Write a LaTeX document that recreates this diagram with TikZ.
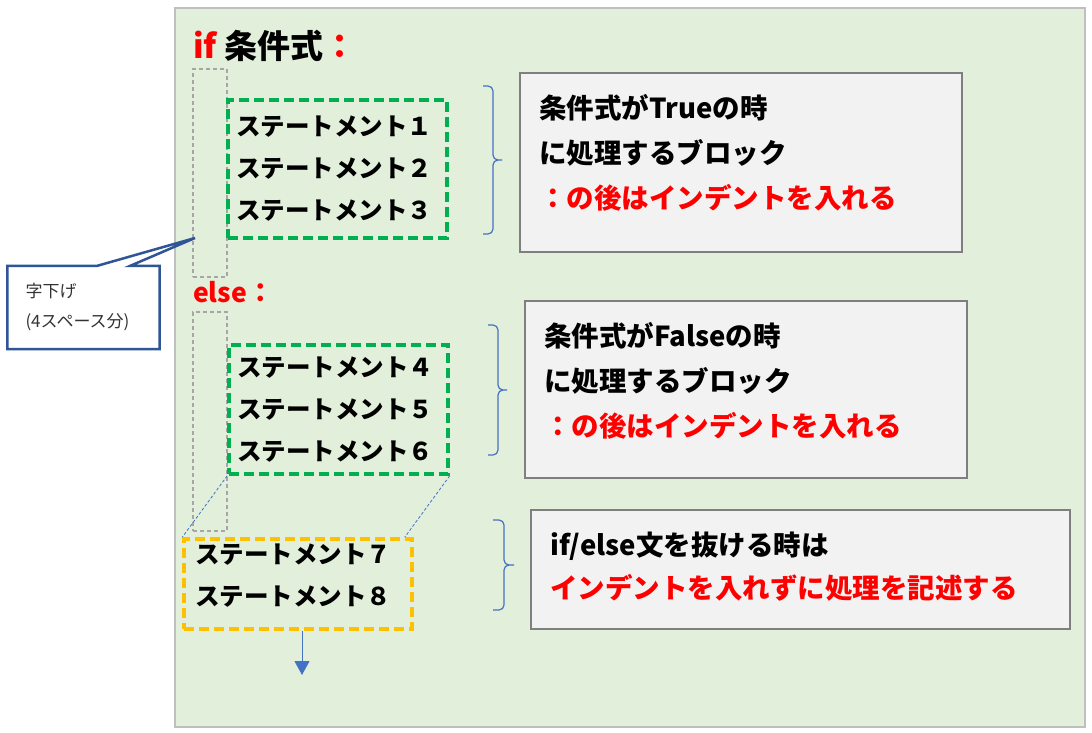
\documentclass[tikz,border=0pt]{standalone}
\usepackage{fontspec}
\usepackage{xcolor}
\usepackage{tikz}
\usetikzlibrary{arrows.meta}
\newfontfamily\cjk{Noto Sans CJK JP}
\definecolor{c1}{HTML}{E2EFDA}
\definecolor{c2}{HTML}{BFBFBF}
\definecolor{c3}{HTML}{00B050}
\definecolor{c4}{HTML}{FFC000}
\definecolor{c5}{HTML}{2F5597}
\definecolor{c6}{HTML}{4472C4}
\definecolor{c7}{HTML}{F2F2F2}
\definecolor{c8}{HTML}{7F7F7F}
\definecolor{c9}{HTML}{A6A6A6}

\begin{document}
\begin{tikzpicture}[x=1pt, y=-1pt,
    stmt/.style={draw, line width=3.5pt, dash pattern=on 10pt off 5pt, align=left,
        inner ysep=2pt, font=\cjk\bfseries\fontsize{24.5}{42}\selectfont},
    gapbox/.style={draw=c9, line width=1.5pt, dash pattern=on 4pt off 3pt, inner sep=0pt},
    note/.style={draw=c8, line width=2pt, fill=c7, inner sep=0pt},
    notetxt/.style={anchor=west, align=left, inner sep=0pt, font=\cjk\bfseries\fontsize{27.5}{#1}\selectfont},
    brk/.style={c6, line width=1.2pt, rounded corners=5pt},
    link/.style={c6, line width=0.8pt, dash pattern=on 3pt off 2pt}]
    \useasboundingbox (0,0) rectangle (1092,733);
    \fill [white] (0,0) rectangle (1092,733);
    \draw [c2, line width=2pt, fill=c1] (175,8) rectangle (1085,727);

    % headers
    \node [anchor=base west, inner sep=0pt, font=\cjk\bfseries\fontsize{33}{40}\selectfont]
        (ifline) at (193,59) {\textcolor{red}{if} 条件式\textcolor{red}{：}};
    \node [anchor=base west, inner sep=0pt, font=\cjk\bfseries\fontsize{26.5}{30}\selectfont, red]
        (elseline) at (193,302) {else：};

    % indent columns
    \node [gapbox, minimum width=34pt, minimum height=208pt] (gap1) at (210,173) {};
    \node [gapbox, minimum width=34pt, minimum height=219pt] (gap2) at (210,421.5) {};

    % statement blocks
    \node [stmt, draw=c3, minimum width=219pt, minimum height=138pt, inner xsep=8pt, text width=203pt]
        (blk1) at (337.5,169) {ステートメント１\\ステートメント２\\ステートメント３};
    \node [stmt, draw=c3, minimum width=219pt, minimum height=129pt, inner xsep=8pt, text width=203pt]
        (blk2) at (338.5,409.5) {ステートメント４\\ステートメント５\\ステートメント６};
    \node [stmt, draw=c4, minimum width=228pt, minimum height=90pt, inner xsep=11pt, text width=206pt,
        text depth=60pt] (blk3) at (298,584) {ステートメント７\\ステートメント８};

    \draw [link] (blk2.south west) -- (blk3.north west);
    \draw [link] (blk2.south east) -- ([xshift=-9pt]blk3.north east);

    \coordinate (end) at (302,675);
    \draw [c6, line width=1pt, -{Triangle[width=15pt,length=14pt]}] (blk3.south -| end) -- (end);

    % notes
    \node [note, minimum width=442pt, minimum height=179pt] (note1) at (741,162.5) {};
    \node [notetxt=45pt] (note1txt) at ([xshift=20pt, yshift=10pt]note1.west)
        {条件式がTrueの時\\に処理するブロック\\\textcolor{red}{：の後はインデントを入れる}};
    \node [note, minimum width=442pt, minimum height=177pt] (note2) at (746,389.5) {};
    \node [notetxt=45pt] (note2txt) at ([xshift=20pt, yshift=9pt]note2.west)
        {条件式がFalseの時\\に処理するブロック\\\textcolor{red}{：の後はインデントを入れる}};
    \node [note, minimum width=539pt, minimum height=119pt] (note3) at (800.5,569.5) {};
    \node [notetxt=43pt] (note3txt) at ([xshift=20pt, yshift=3pt]note3.west)
        {if/else文を抜ける時は\\\textcolor{red}{インデントを入れずに処理を記述する}};

    % braces
    \draw [brk] (483,86) -| (493,160) -- (505,160) -- (493,160) |- (483,234);
    \draw [brk] (488,325) -| (498,390) -- (510,390) -- (498,390) |- (488,455);
    \draw [brk] (493,520) -| (504,565) -- (517,565) -- (504,565) |- (493,610);

    % callout
    \coordinate (tip) at (195,238);
    \node [minimum width=152pt, minimum height=83pt, inner xsep=18pt, text width=116pt, align=left,
        font=\cjk\fontsize{17}{30}\selectfont, text=black!80] (memo) at (83.5,307.5) {字下げ\\(4スペース分)};
    \draw [c5, line width=2.5pt, line join=miter] ([xshift=90pt]memo.north west) -- (tip)
        -- ([xshift=123pt]memo.north west) -- (memo.north east) -- (memo.south east)
        -- (memo.south west) -- (memo.north west) -- cycle;
\end{tikzpicture}
\end{document}
